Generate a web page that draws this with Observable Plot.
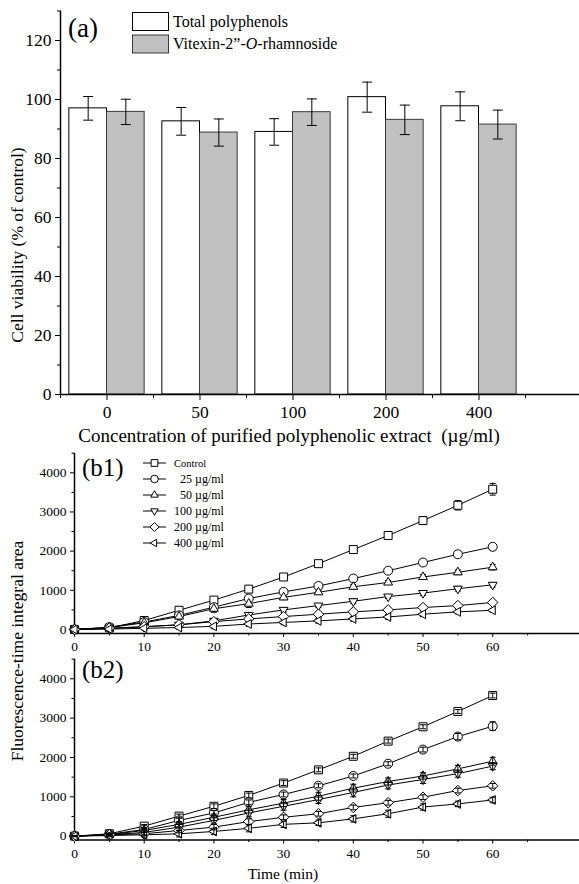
<!DOCTYPE html>
<html><head><meta charset="utf-8">
<script src="https://cdn.jsdelivr.net/npm/d3@7"></script>
<script src="https://cdn.jsdelivr.net/npm/@observablehq/plot@0.6"></script>
<style>
body{margin:0;background:#fff;}
#wrap{position:relative;width:579px;height:884px;font-family:"Liberation Serif","Times New Roman",serif;color:#000;overflow:hidden;}
#wrap > svg, #wrap > figure{position:absolute;left:0;margin:0;}
#wrap svg text{font-family:"Liberation Serif","Times New Roman",serif !important;}
</style></head>
<body><div id="wrap"></div>
<script>
// ---------- Panel (a) data ----------
const concentrations = ["0", "50", "100", "200", "400"];
const totalPolyphenols = [97.0, 92.6, 89.0, 100.8, 97.7];
const totalPolyphenolsErr = [4.0, 4.7, 4.5, 5.1, 4.9];
const vitexin = [95.8, 88.8, 95.7, 93.1, 91.5];
const vitexinErr = [4.3, 4.6, 4.5, 5.0, 4.9];
const yTicksA = [0, 20, 40, 60, 80, 100, 120];

// ---------- Panel (b) data ----------
const times = [0, 5, 10, 15, 20, 25, 30, 35, 40, 45, 50, 55, 60];
const seriesNames = ["Control", "25 µg/ml", "50 µg/ml", "100 µg/ml", "200 µg/ml", "400 µg/ml"];
const legendLabels = ["Control", "  25 µg/ml", "  50 µg/ml", "100 µg/ml", "200 µg/ml", "400 µg/ml"];
const yTicksB = [0, 1000, 2000, 3000, 4000];
const xTicksB = [0, 10, 20, 30, 40, 50, 60];
const b1Control = [0, 40, 230, 490, 750, 1030, 1340, 1680, 2040, 2400, 2780, 3170, 3580];
const b1C25 = [0, 60, 190, 360, 570, 790, 960, 1110, 1300, 1500, 1710, 1920, 2110];
const b1C50 = [0, 50, 170, 330, 530, 660, 820, 950, 1090, 1200, 1340, 1460, 1590];
const b1C100 = [0, 25, 70, 120, 220, 370, 500, 610, 720, 840, 930, 1040, 1140];
const b1C200 = [0, 35, 70, 120, 200, 270, 330, 390, 450, 500, 560, 610, 690];
const b1C400 = [0, 10, 30, 50, 80, 140, 180, 220, 270, 320, 390, 450, 490];
const b1ControlErr = [10, 20, 40, 50, 60, 50, 50, 40, 60, 80, 100, 120, 150];
const b1C25Err = [10, 20, 40, 60, 70, 60, 50, 40, 50, 50, 50, 60, 80];
const b1C50Err = [10, 20, 40, 60, 90, 100, 60, 40, 60, 50, 60, 60, 70];
const b1C100Err = [10, 20, 40, 50, 60, 60, 60, 50, 60, 50, 60, 60, 60];
const b1C200Err = [10, 20, 30, 40, 60, 60, 50, 50, 50, 40, 40, 40, 50];
const b1C400Err = [10, 20, 30, 40, 60, 60, 60, 60, 60, 60, 60, 50, 50];
const b2Control = [0, 60, 255, 510, 760, 1035, 1350, 1685, 2030, 2415, 2780, 3170, 3575];
const b2C25 = [0, 50, 170, 400, 590, 860, 1060, 1280, 1530, 1840, 2200, 2530, 2795];
const b2C50 = [0, 40, 145, 300, 480, 670, 840, 1015, 1220, 1390, 1530, 1710, 1905];
const b2C100 = [0, 35, 95, 230, 400, 590, 760, 930, 1110, 1300, 1440, 1590, 1780];
const b2C200 = [0, 35, 60, 145, 230, 370, 480, 570, 730, 850, 990, 1160, 1280];
const b2C400 = [0, 15, 35, 60, 120, 200, 300, 340, 440, 570, 740, 820, 920];
const b2ControlErr = [10, 20, 40, 50, 60, 60, 60, 50, 50, 50, 50, 50, 60];
const b2C25Err = [10, 20, 40, 60, 60, 60, 60, 50, 50, 50, 60, 80, 110];
const b2C50Err = [10, 20, 50, 70, 80, 80, 90, 100, 100, 90, 80, 90, 100];
const b2C100Err = [10, 30, 60, 80, 90, 100, 100, 100, 110, 100, 100, 90, 90];
const b2C200Err = [10, 20, 40, 60, 70, 70, 60, 60, 60, 60, 60, 60, 60];
const b2C400Err = [10, 30, 60, 80, 80, 90, 80, 70, 80, 90, 80, 70, 70];

// ---------- custom symbols ----------
const hline = {draw(ctx, size){const w = Math.sqrt(size)/2; ctx.moveTo(-w,0); ctx.lineTo(w,0);}};
const triUp = {draw(ctx, size){const R = Math.sqrt(size)*0.64; ctx.moveTo(0,-R); ctx.lineTo(R*0.866,R*0.5); ctx.lineTo(-R*0.866,R*0.5); ctx.closePath();}};
const triDown = {draw(ctx, size){const R = Math.sqrt(size)*0.64; ctx.moveTo(0,R); ctx.lineTo(R*0.866,-R*0.5); ctx.lineTo(-R*0.866,-R*0.5); ctx.closePath();}};
const triLeft = {draw(ctx, size){const R = Math.sqrt(size)*0.64; ctx.moveTo(-R,0); ctx.lineTo(R*0.5,-R*0.866); ctx.lineTo(R*0.5,R*0.866); ctx.closePath();}};
const diamond = {draw(ctx, size){const R = Math.sqrt(size)*0.66; ctx.moveTo(0,-R); ctx.lineTo(R,0); ctx.lineTo(0,R); ctx.lineTo(-R,0); ctx.closePath();}};
const square = {draw(ctx, size){const h = Math.sqrt(size)*0.5; ctx.rect(-h,-h,2*h,2*h);}};
const seriesSymbols = [square, d3.symbolCircle, triUp, triDown, diamond, triLeft];

const wrap = document.getElementById("wrap");
const FONT = '"Liberation Serif","Times New Roman",serif';

function place(node, top){
  node.style.top = top + "px";
  node.style.fontFamily = FONT;
  d3.select(node).selectAll("text").style("font-family", FONT);
  wrap.appendChild(node);
}

// ---------- Panel (a) ----------
const half = 0.405;
const rowsA = concentrations.map((c, i) => ({c, i, tp: totalPolyphenols[i], tpe: totalPolyphenolsErr[i], vx: vitexin[i], vxe: vitexinErr[i]}));
const capR = Math.sqrt(100/Math.PI);
const plotA = Plot.plot({
  width: 579, height: 445,
  marginLeft: 60, marginRight: 0, marginTop: 10.5, marginBottom: 51,
  style: {fontFamily: FONT, color: "#000", background: "transparent", overflow: "visible"},
  x: {type: "linear", domain: [-0.5, (579-60)/93 - 0.5], axis: null},
  y: {domain: [0, 130], axis: null},
  marks: [
    Plot.rect(rowsA, {x1: d => d.i - half, x2: d => d.i, y1: 0, y2: "tp", fill: "white", stroke: "#000", strokeWidth: 1}),
    Plot.rect(rowsA, {x1: d => d.i, x2: d => d.i + half, y1: 0, y2: "vx", fill: "#c0c0c0", stroke: "#3a3a3a", strokeWidth: 1}),
    Plot.ruleX(rowsA, {x: d => d.i - half/2, y1: d => d.tp - d.tpe, y2: d => d.tp + d.tpe, stroke: "#000", strokeWidth: 1}),
    Plot.dot(rowsA, {x: d => d.i - half/2, y: d => d.tp - d.tpe, symbol: hline, r: capR, stroke: "#000", strokeWidth: 1}),
    Plot.dot(rowsA, {x: d => d.i - half/2, y: d => d.tp + d.tpe, symbol: hline, r: capR, stroke: "#000", strokeWidth: 1}),
    Plot.ruleX(rowsA, {x: d => d.i + half/2, y1: d => d.vx - d.vxe, y2: d => d.vx + d.vxe, stroke: "#000", strokeWidth: 1}),
    Plot.dot(rowsA, {x: d => d.i + half/2, y: d => d.vx - d.vxe, symbol: hline, r: capR, stroke: "#000", strokeWidth: 1}),
    Plot.dot(rowsA, {x: d => d.i + half/2, y: d => d.vx + d.vxe, symbol: hline, r: capR, stroke: "#000", strokeWidth: 1}),
    Plot.ruleY([0], {stroke: "#000", strokeWidth: 1.5}),
    Plot.ruleX([-0.5], {stroke: "#000", strokeWidth: 1.5}),
    Plot.axisY({ticks: yTicksA, tickSize: 5, tickPadding: 4, fontSize: 17.5, label: null, tickFormat: d3.format("d")}),
    Plot.axisY({ticks: d3.range(10, 131, 20), tickSize: 3, tickFormat: () => "", label: null}),
    Plot.axisX({ticks: d3.range(0, concentrations.length), tickFormat: i => concentrations[i], tickSize: 6, tickPadding: 5, fontSize: 17.5, label: null}),
    Plot.axisX({ticks: d3.range(-0.5, concentrations.length, 1), tickSize: 4, tickFormat: () => "", label: null})
  ]
});
place(plotA, 0);

// ---------- Panels (b1), (b2) ----------
function tidy(seriesList, errList){
  const rows = [];
  seriesList.forEach((vals, s) => vals.forEach((v, k) => rows.push({s, t: times[k], v, e: errList[s][k]})));
  return rows;
}
const b1Rows = tidy([b1Control, b1C25, b1C50, b1C100, b1C200, b1C400], [b1ControlErr, b1C25Err, b1C50Err, b1C100Err, b1C200Err, b1C400Err]);
const b2Rows = tidy([b2Control, b2C25, b2C50, b2C100, b2C200, b2C400], [b2ControlErr, b2C25Err, b2C50Err, b2C100Err, b2C200Err, b2C400Err]);

function panelB(rows, height, marginTop, marginBottom, barsOnTop){
  const ml = 74, pxPerMin = 6.97;
  const marks = [
    Plot.ruleY([-100], {stroke: "#000", strokeWidth: 1.5}),
    Plot.ruleX([0], {stroke: "#000", strokeWidth: 1.5}),
    Plot.axisY({ticks: yTicksB, tickSize: 4, tickPadding: 4, fontSize: 13.5, label: null, tickFormat: d3.format("d")}),
    Plot.axisY({ticks: d3.range(500, 4501, 1000), tickSize: 2.5, tickFormat: () => "", label: null}),
    Plot.axisX({ticks: xTicksB, tickSize: 4, tickPadding: 4, fontSize: 13.5, label: null, tickFormat: d3.format("d")}),
    Plot.axisX({ticks: d3.range(5, 66, 10), tickSize: 2.5, tickFormat: () => "", label: null})
  ];
  const capRb = Math.sqrt(36/Math.PI);
  for (let s = 0; s < seriesNames.length; s++){
    const d = rows.filter(r => r.s === s);
    marks.push(Plot.line(d, {x: "t", y: "v", stroke: "#000", strokeWidth: 1}));
  }
  const bars = [];
  for (let s = 0; s < seriesNames.length; s++){
    const d = rows.filter(r => r.s === s);
    bars.push(Plot.ruleX(d, {x: "t", y1: r => r.v - r.e, y2: r => r.v + r.e, stroke: "#000", strokeWidth: 1}));
    bars.push(Plot.dot(d, {x: "t", y: r => r.v - r.e, symbol: hline, r: capRb, stroke: "#000", strokeWidth: 1}));
    bars.push(Plot.dot(d, {x: "t", y: r => r.v + r.e, symbol: hline, r: capRb, stroke: "#000", strokeWidth: 1}));
  }
  const dots = [];
  for (let s = 0; s < seriesNames.length; s++){
    const d = rows.filter(r => r.s === s);
    dots.push(Plot.dot(d, {x: "t", y: "v", symbol: seriesSymbols[s], r: 4.5, fill: "white", stroke: "#000", strokeWidth: 1}));
  }
  if (barsOnTop) marks.push(...dots, ...bars); else marks.push(...bars, ...dots);
  return Plot.plot({
    width: 579, height,
    marginLeft: ml, marginRight: 0, marginTop, marginBottom,
    style: {fontFamily: FONT, color: "#000", background: "transparent", overflow: "visible"},
    x: {type: "linear", domain: [0, (579 - ml)/pxPerMin], axis: null},
    y: {domain: [-100, 4500], axis: null},
    marks
  });
}
place(panelB(b1Rows, 210, 7.7, 22.1, false), 445);
place(panelB(b2Rows, 229, 3.6, 44.4, true), 655);

// ---------- overlay text & legends ----------
const ov = d3.select(wrap).append("svg")
  .attr("width", 579).attr("height", 884)
  .style("position", "absolute").style("top", "0px").style("left", "0px")
  .style("font-family", FONT).style("pointer-events", "none");

ov.append("text").attr("x", 68).attr("y", 37).attr("font-size", 27).text("(a)");
ov.append("text").attr("transform", "translate(23,245) rotate(-90)").attr("text-anchor", "middle").attr("font-size", 17.5).text("Cell viability (% of control)");
ov.append("text").attr("x", 289).attr("y", 442).attr("text-anchor", "middle").attr("font-size", 19).style("white-space", "pre").text("Concentration of purified polyphenolic extract  (µg/ml)");

// legend (a)
const legA = [{name: "Total polyphenols", fill: "white", stroke: "#000"}, {name: null, fill: "#c0c0c0", stroke: "#3a3a3a"}];
ov.append("rect").attr("x", 132.5).attr("y", 12.5).attr("width", 36).attr("height", 18).attr("fill", legA[0].fill).attr("stroke", legA[0].stroke);
ov.append("rect").attr("x", 132.5).attr("y", 35).attr("width", 36).attr("height", 18).attr("fill", legA[1].fill).attr("stroke", legA[1].stroke);
ov.append("text").attr("x", 173).attr("y", 27).attr("font-size", 16).text(legA[0].name);
const t2 = ov.append("text").attr("x", 173).attr("y", 49).attr("font-size", 16);
t2.append("tspan").text("Vitexin-2”-");
t2.append("tspan").attr("font-style", "italic").text("O");
t2.append("tspan").text("-rhamnoside");

// b labels
ov.append("text").attr("x", 82).attr("y", 476).attr("font-size", 25).text("(b1)");
ov.append("text").attr("x", 82).attr("y", 678).attr("font-size", 25).text("(b2)");
ov.append("text").attr("transform", "translate(23,651) rotate(-90)").attr("text-anchor", "middle").attr("font-size", 17.5).text("Fluorescence-time integral area");
ov.append("text").attr("x", 283).attr("y", 879).attr("text-anchor", "middle").attr("font-size", 15.5).text("Time (min)");

// legend (b1)
seriesNames.forEach((name, s) => {
  const y = 463 + s * 16;
  ov.append("line").attr("x1", 143).attr("x2", 166).attr("y1", y).attr("y2", y).attr("stroke", "#000");
  ov.append("path").attr("transform", `translate(154.5,${y})`).attr("d", d3.symbol(seriesSymbols[s], Math.PI*3.8*3.8)()).attr("fill", "white").attr("stroke", "#000");
  ov.append("text").attr("x", 174).attr("y", y + 4).attr("font-size", s === 0 ? 10.5 : 12).style("white-space", "pre").text(legendLabels[s]);
});
</script>
</body></html>
